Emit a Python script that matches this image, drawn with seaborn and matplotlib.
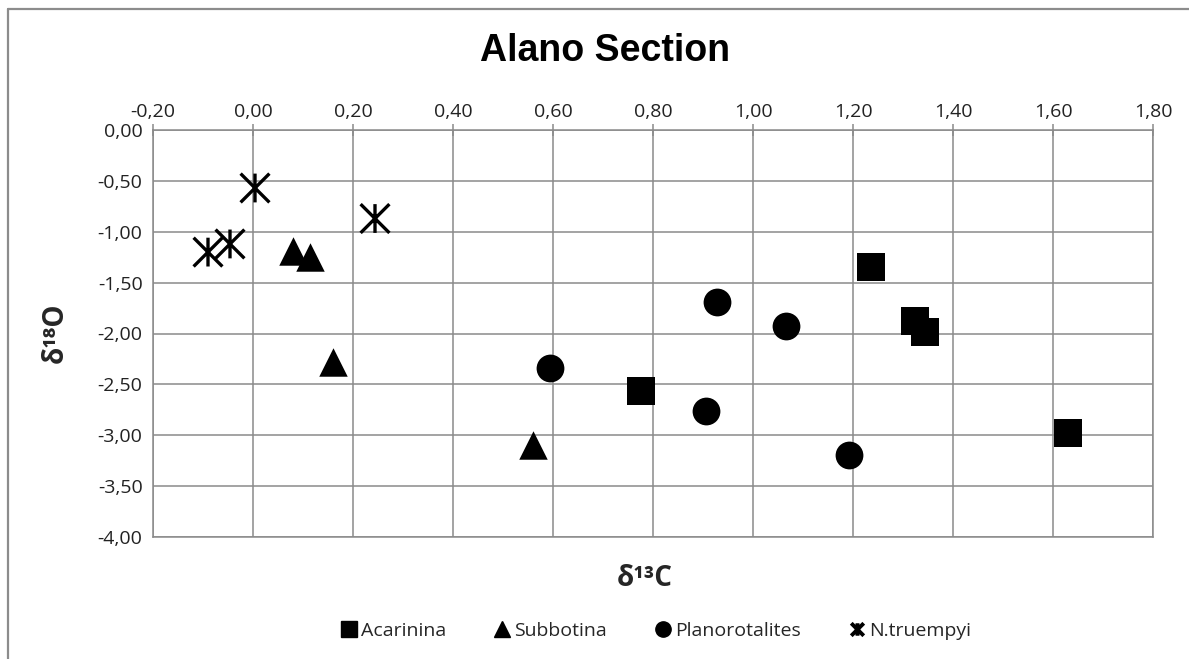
import numpy as np
import pandas as pd
import matplotlib
matplotlib.use("Agg")
import matplotlib.pyplot as plt
from matplotlib.path import Path
from matplotlib.lines import Line2D
from matplotlib.ticker import FuncFormatter
import seaborn as sns

# ---- data ----
acarinina_c = [0.776, 1.236, 1.324, 1.344, 1.630]
acarinina_o = [-2.57, -1.35, -1.88, -1.99, -2.98]
subbotina_c = [0.080, 0.114, 0.160, 0.560]
subbotina_o = [-1.19, -1.25, -2.28, -3.10]
planor_c = [0.594, 0.928, 1.066, 0.906, 1.192]
planor_o = [-2.34, -1.69, -1.93, -2.76, -3.19]
ntrue_c = [0.004, -0.090, -0.046, 0.244]
ntrue_o = [-0.57, -1.20, -1.12, -0.87]
series_names = ["Acarinina", "Subbotina", "Planorotalites", "N.truempyi"]
x_ticks = [-0.20, 0.00, 0.20, 0.40, 0.60, 0.80, 1.00, 1.20, 1.40, 1.60, 1.80]
y_ticks = [0.00, -0.50, -1.00, -1.50, -2.00, -2.50, -3.00, -3.50, -4.00]
title = "Alano Section"
xlabel = "δ¹³C"
ylabel = "δ¹⁸O"

sns.set_theme(style="white")
plt.rcParams["font.family"] = ["Open Sans", "DejaVu Sans"]

W, H = 1189, 659
fig = plt.figure(figsize=(W / 100, H / 100), dpi=100)
ax = fig.add_axes([153 / W, 1 - 537 / H, 1000 / W, 407 / H])

# asterisk marker: vertical bar + X
star = Path([(0, -1), (0, 1), (-1, -1), (1, 1), (-1, 1), (1, -1)],
            [Path.MOVETO, Path.LINETO, Path.MOVETO, Path.LINETO, Path.MOVETO, Path.LINETO])

df = pd.concat([
    pd.DataFrame({"c": acarinina_c, "o": acarinina_o, "s": series_names[0]}),
    pd.DataFrame({"c": subbotina_c, "o": subbotina_o, "s": series_names[1]}),
    pd.DataFrame({"c": planor_c, "o": planor_o, "s": series_names[2]}),
    pd.DataFrame({"c": ntrue_c, "o": ntrue_o, "s": series_names[3]}),
])

styles = {
    "Acarinina": dict(marker="s", s=380),
    "Subbotina": dict(marker="^", s=420),
    "Planorotalites": dict(marker="o", s=400),
}
for name, kw in styles.items():
    sub = df[df.s == name]
    sns.scatterplot(data=sub, x="c", y="o", ax=ax, color="black",
                    edgecolor="black", linewidth=0, zorder=3, legend=False, **kw)
sub = df[df.s == "N.truempyi"]
sns.scatterplot(data=sub, x="c", y="o", ax=ax, marker=star, s=430, color="black",
                edgecolor="black", linewidth=2.4, zorder=3, legend=False)
ax.collections[-1].set_facecolor("none")

ax.set_xlim(-0.20, 1.80)
ax.set_ylim(-4.00, 0.00)
ax.set_xticks(x_ticks)
ax.set_yticks(y_ticks)
fmt = FuncFormatter(lambda v, p: f"{v:.2f}".replace(".", ","))
ax.xaxis.set_major_formatter(fmt)
ax.yaxis.set_major_formatter(fmt)
ax.xaxis.tick_top()
grid_col = "#8a8a8a"
ax.grid(True, color=grid_col, linewidth=1.1)
for sp in ax.spines.values():
    sp.set_color(grid_col)
    sp.set_linewidth(1.1)
ax.tick_params(axis="x", direction="inout", length=9, width=1.1, color=grid_col,
               labelsize=14, pad=2, labelcolor="#222222")
ax.tick_params(axis="y", direction="inout", length=9, width=1.1, color=grid_col,
               labelsize=14, pad=3, labelcolor="#222222")
ax.set_xlabel("")
ax.set_ylabel("")
ax.set_axisbelow(True)

fig.text(605 / W, 1 - 51 / H, title, ha="center", va="center",
         fontsize=27, fontweight="bold", color="black", family=["Liberation Sans", "DejaVu Sans"])
fig.text(645 / W, 1 - 578 / H, xlabel, ha="center", va="center",
         fontsize=20, fontweight="bold", family=["Open Sans", "DejaVu Sans"])
fig.text(55 / W, 1 - 333 / H, ylabel, ha="center", va="center", rotation=90,
         fontsize=20, fontweight="bold", family=["Open Sans", "DejaVu Sans"])

# legend
handles = [
    Line2D([], [], ls="none", marker="s", ms=11, color="black"),
    Line2D([], [], ls="none", marker="^", ms=11, color="black"),
    Line2D([], [], ls="none", marker="o", ms=11, color="black"),
    Line2D([], [], ls="none", marker=star, ms=9, mew=2.8, color="black"),
]
fig.legend(handles, series_names, loc="center", ncol=4,
           bbox_to_anchor=(655 / W, 1 - 631 / H), frameon=False,
           fontsize=14, handletextpad=0.1, columnspacing=2.4, handlelength=1.0)

# outer border (chart area)
fig.add_artist(Line2D([8 / W, 8 / W], [0, 1 - 9 / H], color="#8c8c8c", lw=1.6))
fig.add_artist(Line2D([8 / W, 1], [1 - 9 / H, 1 - 9 / H], color="#8c8c8c", lw=1.6))

fig.savefig("out.png", dpi=100)
